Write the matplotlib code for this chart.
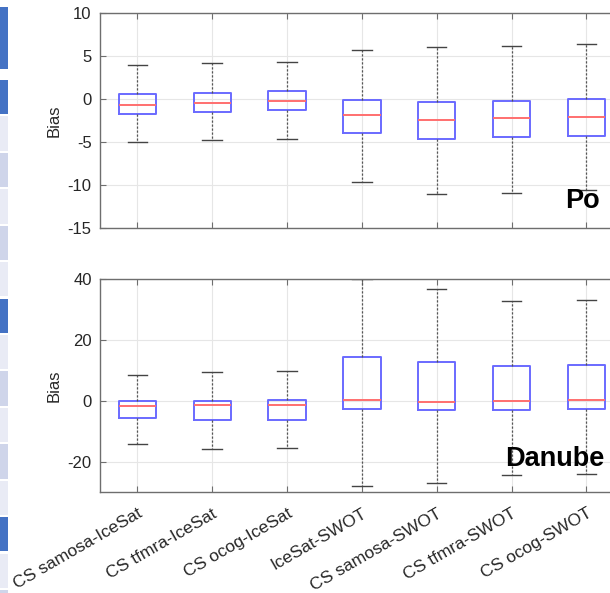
import matplotlib.pyplot as plt

plt.rcParams['font.family'] = ['Liberation Sans', 'DejaVu Sans']
plt.rcParams['axes.unicode_minus'] = False

methods = ['CS samosa-IceSat', 'CS tfmra-IceSat', 'CS ocog-IceSat', 'IceSat-SWOT',
           'CS samosa-SWOT', 'CS tfmra-SWOT', 'CS ocog-SWOT']

# Po: box statistics of the bias
po_whislo = [-5.0, -4.8, -4.6, -9.7, -11.1, -10.9, -10.6]
po_q1 = [-1.74, -1.54, -1.27, -3.94, -4.67, -4.44, -4.29]
po_med = [-0.66, -0.43, -0.2, -1.89, -2.47, -2.24, -2.05]
po_q3 = [0.54, 0.73, 0.96, -0.08, -0.38, -0.2, -0.04]
po_whishi = [3.94, 4.13, 4.29, 5.68, 6.06, 6.18, 6.37]

# Danube: box statistics of the bias
da_whislo = [-14.2, -15.8, -15.7, -28.0, -26.9, -24.4, -24.2]
da_q1 = [-5.8, -6.45, -6.34, -2.6, -3.2, -2.95, -2.7]
da_med = [-1.64, -1.53, -1.3, 0.1, -0.33, -0.1, 0.1]
da_q3 = [-0.1, -0.1, 0.22, 14.4, 12.8, 11.4, 11.6]
da_whishi = [8.3, 9.28, 9.73, 39.9, 36.6, 32.8, 33.2]

# banded table column on the left edge: start row, rows spanned, shade
strip_start = [-2, 0, 1, 2, 3, 4, 5, 6, 7, 8, 9, 10, 11, 12, 13, 14]
strip_span = [1.75, 1, 1, 1, 1, 1, 1, 1, 1, 1, 1, 1, 1, 1, 1, 1]
strip_shade = ['dark', 'dark', 'light', 'mid', 'light', 'mid', 'light', 'dark',
               'light', 'mid', 'light', 'mid', 'light', 'dark', 'light', 'mid']
shade_colors = {'dark': '#4472C4', 'mid': '#CFD5EA', 'light': '#E9EBF5'}


def stats(lo, q1, med, q3, hi):
    return [dict(whislo=a, q1=b, med=c, q3=d, whishi=e, fliers=[])
            for a, b, c, d, e in zip(lo, q1, med, q3, hi)]


def draw_panel(ax, st, ylim, yticks, name, name_xy):
    ax.bxp(st, positions=range(1, len(st) + 1), widths=0.5, capwidths=0.26,
           showfliers=False, patch_artist=False,
           boxprops=dict(color='#6A6AFF', linewidth=1.4),
           medianprops=dict(color='#FF6F6F', linewidth=1.4),
           whiskerprops=dict(color='#555555', linewidth=0.9, linestyle=(0, (1.8, 1.4))),
           capprops=dict(color='#444444', linewidth=1.0))
    ax.set_xlim(0.5, 7.5)
    ax.set_ylim(*ylim)
    ax.set_yticks(yticks)
    ax.grid(True, color='#E6E6E6', linewidth=0.8)
    ax.set_axisbelow(True)
    for s in ax.spines.values():
        s.set_color('#6E6E6E')
        s.set_linewidth(1.0)
    ax.tick_params(direction='in', length=4, color='#6E6E6E', labelsize=12,
                   labelcolor='#262626', top=True, right=False, pad=6)
    ax.set_ylabel('Bias', fontsize=12, color='#262626', labelpad=4)
    ax.text(*name_xy, name, fontsize=19.5, fontweight='bold', color='black',
            ha='left', va='baseline', zorder=5)


fig = plt.figure(figsize=(6.1, 5.93), dpi=100)

ax_top = fig.add_axes([0.1639, 0.6155, 0.8587, 0.3626])
draw_panel(ax_top, stats(po_whislo, po_q1, po_med, po_q3, po_whishi),
           (-15, 10), [-15, -10, -5, 0, 5, 10], 'Po', (6.72, -12.65))
ax_top.set_xticks(range(1, 8))
ax_top.set_xticklabels([])

ax_bot = fig.add_axes([0.1639, 0.1703, 0.8587, 0.3592])
draw_panel(ax_bot, stats(da_whislo, da_q1, da_med, da_q3, da_whishi),
           (-30, 40), [-20, 0, 20, 40], 'Danube', (5.92, -21.6))
ax_bot.set_xticks(range(1, 8))
ax_bot.set_xticklabels(methods, rotation=30, ha='right', rotation_mode='anchor',
                       fontsize=12.6)
ax_bot.tick_params(axis='x', pad=10)

# left edge strip
ax_strip = fig.add_axes([0, 0, 7.5 / 610, 1])
for start, span, shade in zip(strip_start, strip_span, strip_shade):
    ax_strip.barh(start, 1, height=span - 0.06, align='edge', left=0,
                  color=shade_colors[shade])
ax_strip.set_xlim(0, 1)
ax_strip.set_ylim(14.08, -2.196)
ax_strip.axis('off')

fig.savefig('out.png', dpi=100)
